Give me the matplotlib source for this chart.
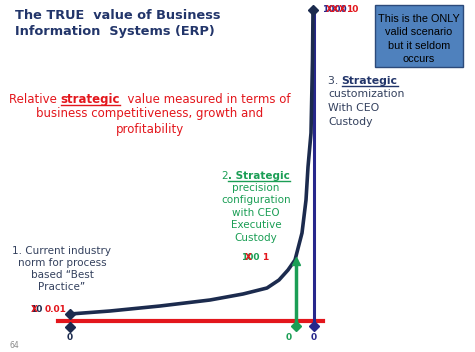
import matplotlib.pyplot as plt
from matplotlib.patches import Rectangle

# courbe de valeur (position horizontale, valeur relative au-dessus de la ligne rouge)
curve_x = [70, 110, 160, 210, 243, 267, 279, 288, 295, 302, 306, 308, 311, 312.5, 313]
curve_y = [8, 11, 16, 22, 28, 34, 42, 52, 62, 89, 122, 155, 189, 262, 312]

# les trois scenarios : etiquettes de donnees
pts_x = [70, 296, 313]
pts_y = [8, 61, 312]
lab_x = ['10', '100', '1000']
lab_y = ['0.01', '1', '10']
lab_zero = ['0', '0', '0']

navy = '#1c2b4e'
red = '#e3161c'
green = '#1b9e55'
blue = '#27278c'
grey = '#34415e'

fig = plt.figure(figsize=(4.75, 3.52), dpi=100)
ax = fig.add_axes([0, 0, 1, 1])
ax.set_xlim(0, 475)
ax.set_ylim(-30, 322)
ax.axis('off')

# axe horizontal rouge
ax.plot([58, 323], [1, 1], color=red, lw=3, zorder=2)

# courbe
ax.plot(curve_x, curve_y, color=navy, lw=2.6, solid_joinstyle='round',
        solid_capstyle='round', zorder=3)

# lignes verticales
ax.plot([pts_x[1], pts_x[1]], [-4, pts_y[1]], color=green, lw=2.5, zorder=4)
ax.plot([314, 314], [-4, 314], color=blue, lw=2.2, zorder=2)

# marqueurs
ax.plot([pts_x[0], pts_x[0]], [pts_y[0], -5], 'D', color=navy, ms=5, lw=0, zorder=5)
ax.plot(pts_x[1], -4, 'D', color=green, ms=5, zorder=5)
ax.plot(pts_x[1], pts_y[1], marker='^', color=green, ms=6, zorder=5)
ax.plot(314, -4, 'D', color=blue, ms=5, zorder=5)
ax.plot(pts_x[2], pts_y[2], 'D', color=navy, ms=5, zorder=5)

# zeros sous l'axe
ax.text(70, -15, lab_zero[0], color=navy, fontsize=6.5, fontweight='bold', ha='center', va='center')
ax.text(289, -15, lab_zero[1], color=green, fontsize=6.5, fontweight='bold', ha='center', va='center')
ax.text(314, -15, lab_zero[2], color=blue, fontsize=6.5, fontweight='bold', ha='center', va='center')

# etiquettes superposees (comme sur la diapositive)
ax.text(30, 12, lab_x[0], color=navy, fontsize=6.5, fontweight='bold', va='center')
ax.text(31, 12, 'X', color=red, fontsize=6.5, fontweight='bold', va='center')
ax.text(45, 12, lab_y[0], color=red, fontsize=6.5, fontweight='bold', va='center')

ax.text(241, 64, lab_x[1], color=green, fontsize=6.5, fontweight='bold', va='center')
ax.text(245, 64, 'X', color=red, fontsize=6.5, fontweight='bold', va='center')
ax.text(262, 64, lab_y[1], color=red, fontsize=6.5, fontweight='bold', va='center')

ax.text(322, 312, lab_x[2], color=blue, fontsize=6.5, fontweight='bold', va='center')
ax.text(326, 312, 'XXX', color=red, fontsize=6.5, fontweight='bold', va='center')
ax.text(346, 312, lab_y[2], color=red, fontsize=6.5, fontweight='bold', va='center')

# titre
ax.text(15, 313, 'The TRUE  value of Business\nInformation  Systems (ERP)', color='#22356a',
        fontsize=9.3, fontweight='bold', ha='left', va='top', linespacing=1.3)

fig.canvas.draw()
renderer = fig.canvas.get_renderer()
inv = ax.transData.inverted()


def width_of(t):
    bb = t.get_window_extent(renderer)
    (x0, _), (x1, _) = inv.transform([[bb.x0, bb.y0], [bb.x1, bb.y1]])
    return x1 - x0


def underline(x0, x1, y, color):
    ax.plot([x0, x1], [y, y], color=color, lw=1)


# texte rouge, premiere ligne en trois morceaux
fs = 8.5
parts = [('Relative ', 'normal'), ('strategic', 'bold'), ('  value measured in terms of', 'normal')]
tmp = [ax.text(0, 0, p, fontsize=fs, fontweight=w) for p, w in parts]
ws = [width_of(t) for t in tmp]
for t in tmp:
    t.remove()
x = 150 - sum(ws) / 2
for (p, w), wd in zip(parts, ws):
    ax.text(x, 219, p, color=red, fontsize=fs, fontweight=w, va='baseline')
    if w == 'bold':
        underline(x, x + wd, 217, red)
    x += wd
ax.text(150, 215, 'business competitiveness, growth and\nprofitability',
        color=red, fontsize=fs, ha='center', va='top', multialignment='center',
        linespacing=1.3)

# scenario 3
t3 = ax.text(328, 238, '3. ', color=grey, fontsize=7.8, va='baseline')
x = 328 + width_of(t3)
s3 = ax.text(x, 238, 'Strategic', color='#22356a', fontsize=7.8, fontweight='bold', va='baseline')
underline(x, x + width_of(s3), 236, '#22356a')
ax.text(328, 233, 'customization\nWith CEO\nCustody', color=grey, fontsize=7.8,
        va='top', linespacing=1.5)

# encadre
ax.add_patch(Rectangle((375, 255), 88, 62, facecolor='#4f81bd', edgecolor='#2c4a7a', lw=1, zorder=3))
ax.text(419, 283, 'This is the ONLY\nvalid scenario\nbut it seldom\noccurs', family='Liberation Sans',
        fontsize=7.8, color='black', ha='center', va='center', linespacing=1.4, zorder=4)

# scenario 2
fs2 = 7.5
a = ax.text(0, 0, '2', fontsize=fs2)
b = ax.text(0, 0, '. Strategic', fontsize=fs2, fontweight='bold')
wa, wb = width_of(a), width_of(b)
a.remove()
b.remove()
x = 256 - (wa + wb) / 2
ax.text(x, 143, '2', color=green, fontsize=fs2, va='baseline')
ax.text(x + wa, 143, '. Strategic', color=green, fontsize=fs2, fontweight='bold', va='baseline')
underline(x + wa, x + wa + wb, 141, green)
ax.text(256, 139, 'precision\nconfiguration\nwith CEO\nExecutive\nCustody', color=green,
        fontsize=fs2, ha='center', va='top', linespacing=1.3)

# scenario 1
ax.text(62, 53, '1. Current industry\nnorm for process\nbased \u201cBest\nPractice\u201d', color=grey,
        fontsize=7.5, ha='center', va='center', linespacing=1.25)

ax.text(10, -24, '64', color='#8a8a8a', fontsize=5.5, va='center')

plt.savefig('out.png', dpi=100)
